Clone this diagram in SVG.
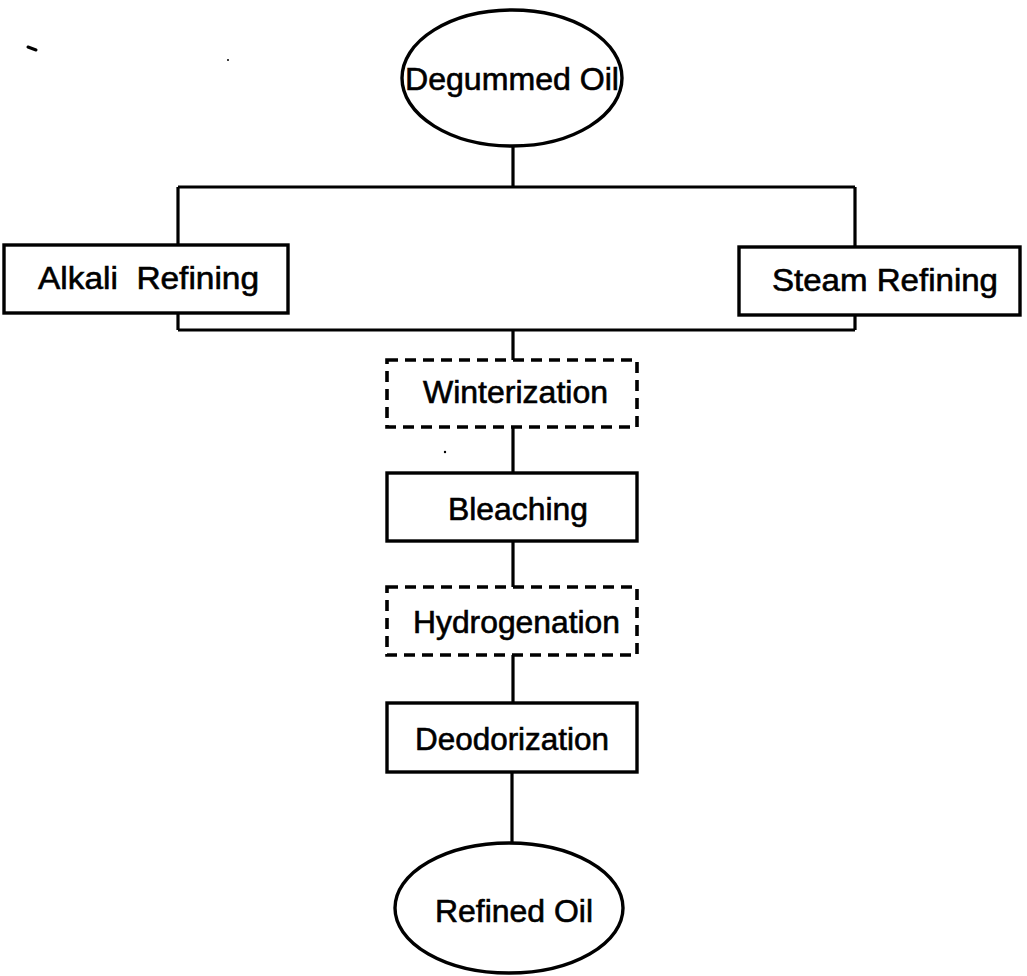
<svg xmlns="http://www.w3.org/2000/svg" width="1027" height="976" viewBox="0 0 1027 976">
<style>
.shape{fill:#fff;stroke:#000;stroke-width:3.4}
.dash{fill:#fff;stroke:#000;stroke-width:3.6;stroke-dasharray:11 7}
.conn{fill:none;stroke:#000;stroke-width:3.2}
.lbl{font-family:"Liberation Sans",Arial,sans-serif;font-size:31px;fill:#000;stroke:#000;stroke-width:0.6;text-anchor:start}
</style>
<rect width="1027" height="976" fill="#fff"/>
<g id="connectors">
<path class="conn" d="M513 145V187M178 187H855M178 187V245M855 187V247M178 313V330M855 315V330M178 330H855M513 330V360M513 427V473M513 541V587M513 655V703M512 772V843"/>
</g>
<g id="degummed-oil">
<ellipse class="shape" cx="512" cy="78" rx="110" ry="68"/>
<text class="lbl" x="405" y="90" textLength="214" lengthAdjust="spacingAndGlyphs">Degummed Oil</text>
</g>
<g id="alkali-refining">
<rect class="shape" x="4" y="245" width="284" height="68"/>
<text class="lbl" x="38" y="289" textLength="221" lengthAdjust="spacingAndGlyphs" xml:space="preserve">Alkali  Refining</text>
</g>
<g id="steam-refining">
<rect class="shape" x="739" y="247" width="281" height="68"/>
<text class="lbl" x="772" y="291" textLength="226" lengthAdjust="spacingAndGlyphs">Steam Refining</text>
</g>
<g id="winterization">
<rect class="dash" x="387" y="360" width="250" height="67"/>
<text class="lbl" x="423" y="403" textLength="185" lengthAdjust="spacingAndGlyphs">Winterization</text>
</g>
<g id="bleaching">
<rect class="shape" x="387" y="473" width="250" height="68"/>
<text class="lbl" x="448" y="520" textLength="140" lengthAdjust="spacingAndGlyphs">Bleaching</text>
</g>
<g id="hydrogenation">
<rect class="dash" x="387" y="587" width="250" height="68"/>
<text class="lbl" x="413" y="633" textLength="207" lengthAdjust="spacingAndGlyphs">Hydrogenation</text>
</g>
<g id="deodorization">
<rect class="shape" x="387" y="703" width="250" height="69"/>
<text class="lbl" x="415" y="750" textLength="194" lengthAdjust="spacingAndGlyphs">Deodorization</text>
</g>
<g id="refined-oil">
<ellipse class="shape" cx="509" cy="908" rx="114" ry="65"/>
<text class="lbl" x="435" y="922" textLength="158" lengthAdjust="spacingAndGlyphs">Refined Oil</text>
</g>
<g id="specks">
<path d="M28 47 L36 50" stroke="#000" stroke-width="3" stroke-linecap="round"/>
<circle cx="228" cy="60" r="1"/>
<circle cx="445" cy="452" r="1.2"/>
</g>
</svg>
